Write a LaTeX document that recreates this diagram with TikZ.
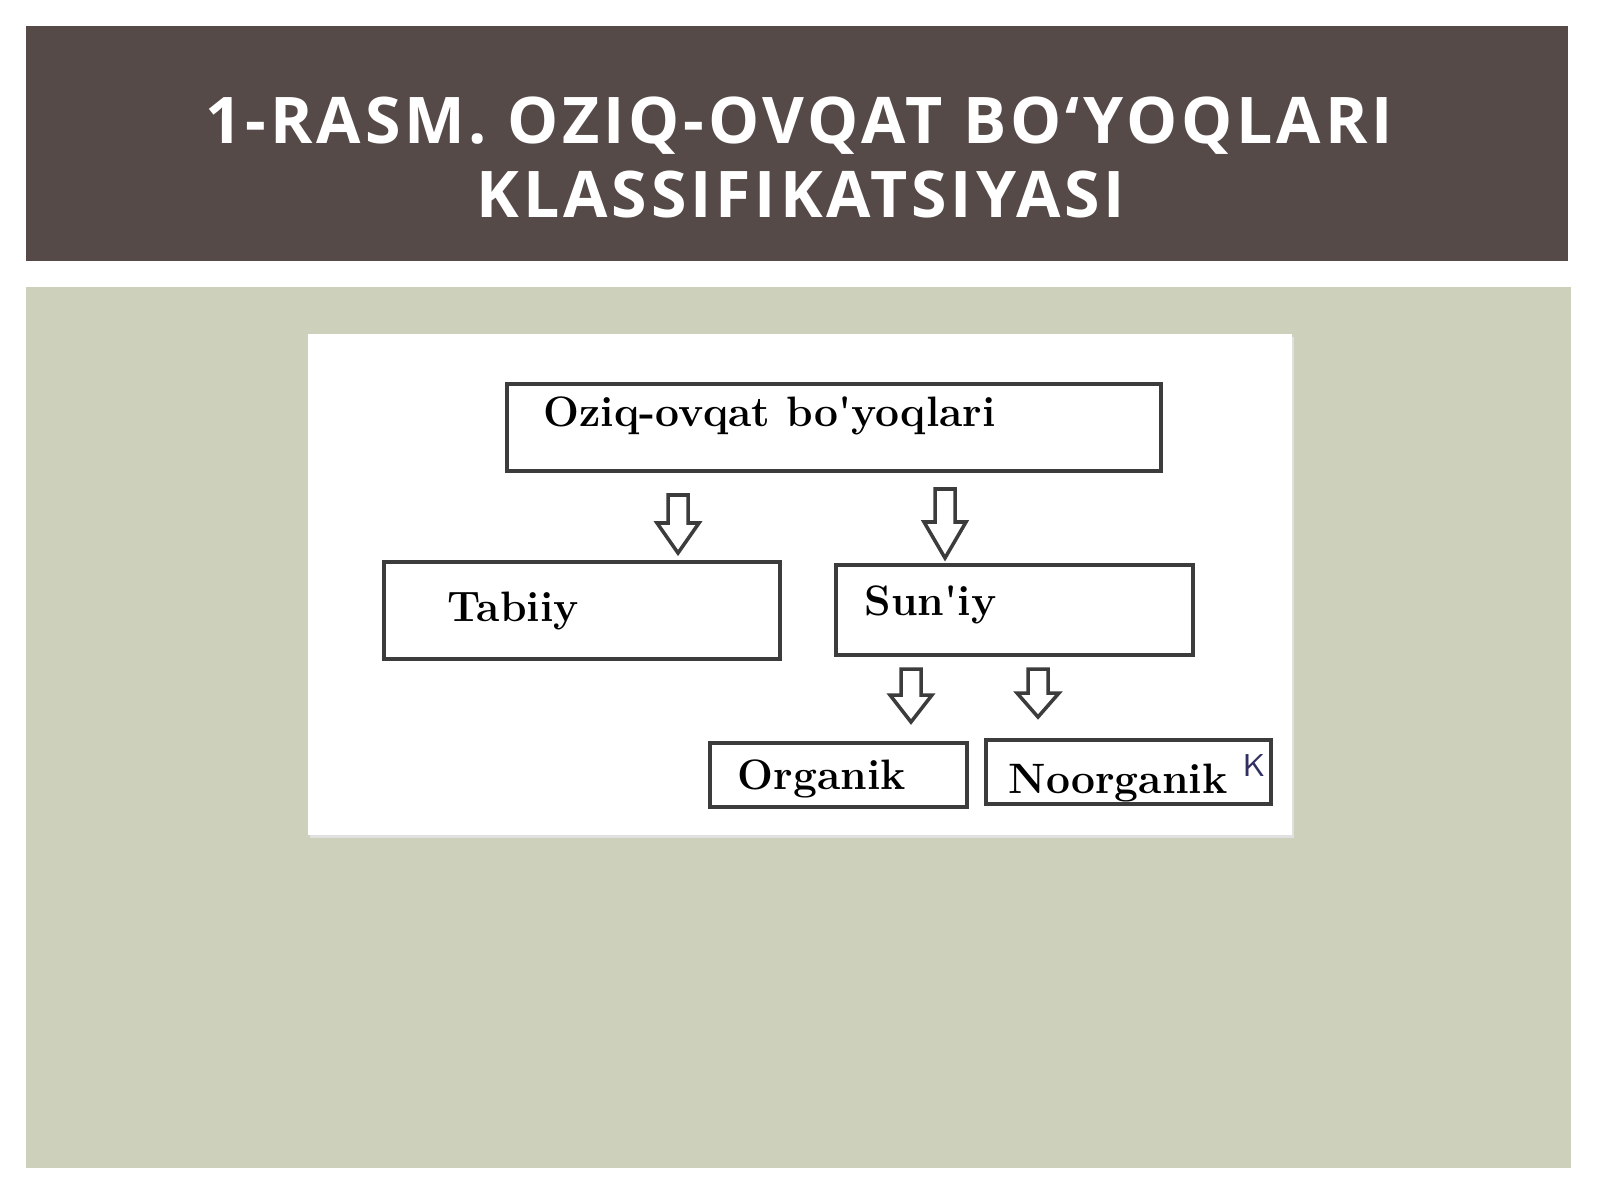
\documentclass[tikz,border=0pt]{standalone}
\usepackage{fontspec}
\newfontfamily\titlefont[LetterSpace=6]{Open Sans}
\definecolor{titlebar}{HTML}{554A48}
\definecolor{panelgreen}{HTML}{CDD0BA}
\definecolor{boxline}{HTML}{3C3C3C}
\begin{document}
\begin{tikzpicture}[x=0.01cm, y=-0.01cm,
	box/.style={draw=boxline, line width=1pt, fill=white, inner sep=0pt},
	lbl/.style={font=\fontsize{12.1}{14}\selectfont\bfseries\addfontfeatures{LetterSpace=2}, inner sep=0pt, anchor=base west},
	titlestyle/.style={font=\titlefont\bfseries\fontsize{18.3}{21}\selectfont, text=white, inner sep=0pt, anchor=base},
	pics/downarrow/.style n args={2}{code={
		\draw[draw=boxline, line width=1pt, fill=white] (-10,0) -- (10,0) -- (10,#1-#2) -- (21,#1-#2) -- (0,#1) -- (-21,#1-#2) -- (-10,#1-#2) -- cycle;
	}}]
	%page and panels
	\fill[white] (0,0) rectangle (1600,1200);
	\fill[titlebar] (26,26) rectangle (1568,261);
	\node[titlestyle] (title1) at (799,143) {1-RASM. OZIQ-OVQAT BO‘YOQLARI};
	\node[titlestyle] (title2) at (801,217) {KLASSIFIKATSIYASI};
	\fill[panelgreen] (26,287) rectangle (1571,1168);
	\fill[black!12] (310,337) rectangle (1294,838);
	\fill[white] (308,334) rectangle (1292,835);
	
	%boxes
	\node[box, minimum width=6.54cm, minimum height=0.87cm] (top) at (834,427.5) {};
	\node[box, minimum width=3.96cm, minimum height=0.97cm] (tabiiybox) at (582,610.5) {};
	\node[box, minimum width=3.57cm, minimum height=0.90cm] (suniybox) at (1014.5,610) {};
	\node[box, minimum width=2.57cm, minimum height=0.64cm] (organikbox) at (838.5,775) {};
	\node[box, minimum width=2.85cm, minimum height=0.64cm] (noorganikbox) at (1128.5,772) {};
	
	%labels
	\node[lbl] (toplbl) at (543,426) {Oziq-ovqat bo\textquotesingle yoqlari};
	\node[lbl] (tabiiy) at (447,621) {Tabiiy};
	\node[lbl] (suniy) at (864,615) {Sun\textquotesingle iy};
	\node[lbl] (organik) at (737,789) {Organik};
	\node[lbl] (noorganik) at (1008,793) {Noorganik};
	\node[font=\sffamily\fontsize{9}{10}\selectfont, text=boxline!80!blue, inner sep=0pt] (kmark) at (1254,766) {K};
	
	%arrows
	\pic at (678,495) {downarrow={58}{30}};
	\pic at (945,489) {downarrow={69}{36}};
	\pic at (911,669) {downarrow={53}{27}};
	\pic at (1038,669) {downarrow={48}{24}};
\end{tikzpicture}
\end{document}
